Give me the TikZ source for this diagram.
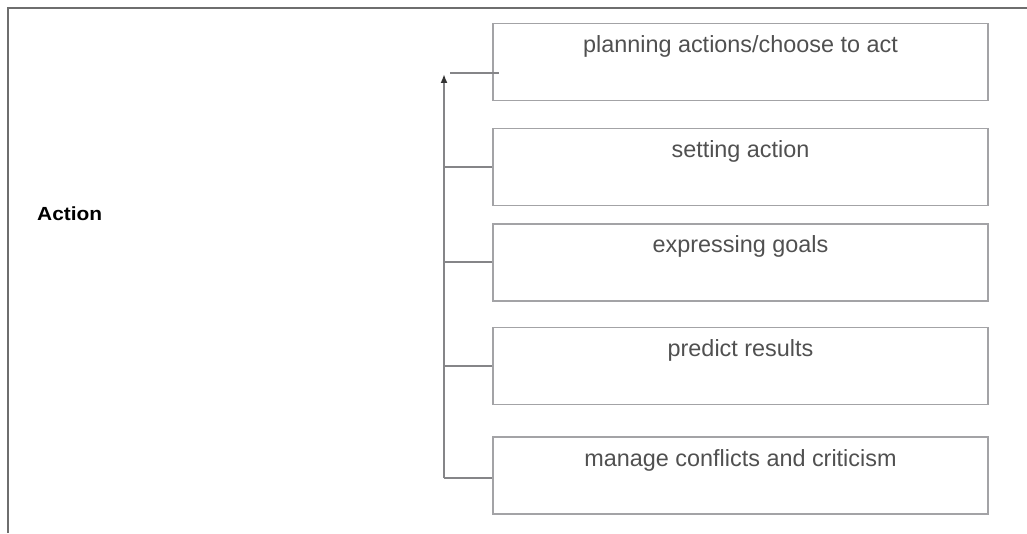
\documentclass[tikz,border=0pt]{standalone}
\usepackage{fontspec}
\setmainfont{Liberation Sans}
\newfontfamily\widebold[FakeStretch=1.1]{Liberation Sans}
\usetikzlibrary{arrows.meta,calc}
\definecolor{boxgray}{HTML}{A3A3A6}
\definecolor{linkgray}{HTML}{858588}
\definecolor{framegray}{HTML}{6E6E6E}
\definecolor{textgray}{HTML}{505050}
\tikzstyle{block} = [rectangle, draw=boxgray, line width=1.5pt, text=textgray,
    minimum width=495pt, inner ysep=0pt, text height=29pt, text depth=48pt,
    font=\fontsize{23.4}{28}\selectfont]
\tikzstyle{line} = [draw=linkgray, line width=2pt]

\begin{document}
\begin{tikzpicture}[x=1pt, y=1pt, node distance=100pt]
    \useasboundingbox (0,0) rectangle (1027,533);
    % Frame
    \draw [framegray, line width=2pt] (8,0) -- (8,525) -- (1027,525);
    % Place nodes
    \node [anchor=base west, inner sep=0pt, font=\widebold\bfseries\fontsize{19}{22}\selectfont] (act) at (37,312) {Action};
    \node [block] (plan) at (740.5,471) {planning actions/choose to act};
    \node [block, below of=plan, node distance=105pt] (set) {setting action};
    \node [block, below of=set, node distance=95.5pt] (goals) {expressing goals};
    \node [block, below of=goals, node distance=103.5pt] (pred) {predict results};
    \node [block, below of=pred, node distance=109.5pt] (conf) {manage conflicts and criticism};
    \coordinate (top) at (444,459);
    \coordinate (bot) at (444,55);
    \coordinate (tick) at (450,460);
    % Draw edges
    \path [line, -{Latex[length=9pt,width=7pt,color=black!80]}] (bot) -- (top);
    \path [line] (tick) -- ([xshift=7pt]tick -| plan.west);
    \path [line] (set.west) -- (set.west -| top);
    \path [line] (goals.west) -- (goals.west -| top);
    \path [line] (pred.west) -- (pred.west -| top);
    \path [line] (bot) -- (bot -| conf.west);
\end{tikzpicture}
\end{document}
